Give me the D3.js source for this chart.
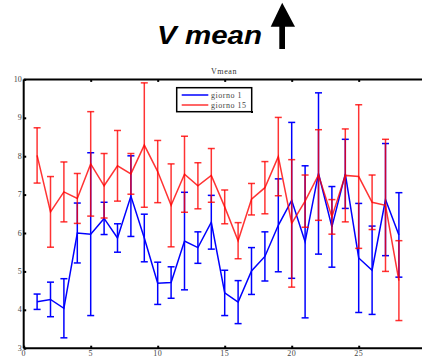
<!DOCTYPE html>
<html><head><meta charset="utf-8">
<script src="https://cdn.jsdelivr.net/npm/d3@7"></script>
<style>html,body{margin:0;padding:0;background:#fff;overflow:hidden}</style>
</head><body>
<script>
const days = d3.range(1, 29);
const meanG1 = [4.21,4.27,4.04,6.0,5.97,6.38,5.87,6.96,5.87,4.69,4.71,5.79,5.62,6.28,4.44,4.2,5.01,5.39,6.2,6.85,5.77,7.55,6.16,7.54,5.35,5.03,6.87,5.95];
const errG1  = [0.2,0.45,0.77,0.78,2.12,0.42,0.37,1.05,0.62,0.55,0.41,1.27,0.41,0.7,0.59,0.56,0.61,0.64,1.21,2.03,1.98,2.1,1.05,0.9,1.42,1.15,1.46,1.1];
const meanG15 = [8.02,6.55,7.07,6.9,7.8,7.23,7.75,7.54,8.29,7.6,6.72,7.53,7.23,7.5,6.68,5.8,6.88,7.18,7.99,6.25,6.83,7.51,6.42,7.5,7.47,6.8,6.72,4.76];
const errG15  = [0.72,0.92,0.78,0.65,1.36,0.84,0.92,0.53,1.62,0.81,1.08,0.99,0.6,0.7,0.44,0.47,0.41,0.68,1.02,1.66,0.68,1.18,0.45,1.21,1.87,0.71,1.72,1.04];
const seriesNames = ["giorno 1","giorno 15"];
const xTicks = [0,5,10,15,20,25];
const yTicks = [3,4,5,6,7,8,9,10];

const W = 422, H = 357;
const L = 23.7, T = 79.4, R = 425.7, B = 348.2;
const svg = d3.select("body").append("svg").attr("width", W).attr("height", H);

const x = d3.scaleLinear().domain([0, 30]).range([L, R]);
const y = d3.scaleLinear().domain([3, 10]).range([B, T]);

// Big title
svg.append("text").attr("x", 157).attr("y", 44.3)
  .attr("textLength", 105).attr("lengthAdjust", "spacingAndGlyphs")
  .style("font-family", "Liberation Sans, Arial, sans-serif")
  .style("font-weight", "bold").style("font-style", "italic")
  .style("font-size", "25px").attr("fill", "#000").text("V mean");
// Arrow
svg.append("rect").attr("x", 279.3).attr("y", 24).attr("width", 5.7).attr("height", 25).attr("fill", "#000");
svg.append("path").attr("d", "M270.7,26.7 L282.2,2.7 L295,26.7 Z").attr("fill", "#000");

// Small title
svg.append("text").attr("x", 224).attr("y", 74).attr("text-anchor", "middle")
  .style("font-family", "Liberation Serif, serif").style("font-size", "8px")
  .style("letter-spacing", "0.6px").attr("fill", "#333").text("Vmean");

const series = [
  {name: seriesNames[0], mean: meanG1, err: errG1, color: "#0000ff", op: 1},
  {name: seriesNames[1], mean: meanG15, err: errG15, color: "#ff0000", op: 0.8}
];

const line = d3.line().x((d, i) => x(days[i])).y(d => y(d));
const cap = 3.5;
series.forEach(s => {
  const g = svg.append("g").attr("stroke", s.color).attr("stroke-opacity", s.op)
    .attr("stroke-width", 1.5).attr("fill", "none");
  days.forEach((d, i) => {
    const lo = s.mean[i] - s.err[i], hi = s.mean[i] + s.err[i];
    g.append("line").attr("x1", x(d)).attr("x2", x(d)).attr("y1", y(lo)).attr("y2", y(hi));
    g.append("line").attr("x1", x(d) - cap).attr("x2", x(d) + cap).attr("y1", y(lo)).attr("y2", y(lo));
    g.append("line").attr("x1", x(d) - cap).attr("x2", x(d) + cap).attr("y1", y(hi)).attr("y2", y(hi));
  });
  g.append("path").attr("d", line(s.mean)).attr("stroke-linejoin", "miter");
});

// Axes frame
const ax = svg.append("g").attr("stroke", "#000").attr("stroke-width", 2);
ax.append("line").attr("x1", L).attr("x2", W).attr("y1", T).attr("y2", T);
ax.append("line").attr("x1", L).attr("x2", W).attr("y1", B).attr("y2", B);
ax.append("line").attr("x1", L).attr("x2", L).attr("y1", T).attr("y2", B);

// Axes via d3 (ticks only inside)
const yAxis = d3.axisRight(y).tickValues(yTicks).tickSize(2.5).tickFormat("");
const gy = svg.append("g").attr("transform", `translate(${L},0)`).call(yAxis);
gy.select(".domain").remove();
gy.selectAll(".tick line").attr("stroke", "#000").attr("stroke-width", 2);

const xAxisB = d3.axisTop(x).tickValues(xTicks).tickSize(2.5).tickFormat("");
const gxb = svg.append("g").attr("transform", `translate(0,${B})`).call(xAxisB);
gxb.select(".domain").remove();
gxb.selectAll(".tick line").attr("stroke", "#000").attr("stroke-width", 2);

const xAxisT = d3.axisBottom(x).tickValues(xTicks.slice(1)).tickSize(2.5).tickFormat("");
const gxt = svg.append("g").attr("transform", `translate(0,${T})`).call(xAxisT);
gxt.select(".domain").remove();
gxt.selectAll(".tick line").attr("stroke", "#000").attr("stroke-width", 2);

// Tick labels
const lblStyle = sel => sel.style("font-family", "Liberation Serif, serif").style("font-size", "8px")
  .attr("fill", "#444");
svg.append("g").selectAll("text").data(yTicks).join("text")
  .attr("x", L - 2).attr("y", d => y(d) + 2.5).attr("text-anchor", "end")
  .call(lblStyle).text(d => d);
svg.append("g").selectAll("text").data(xTicks).join("text")
  .attr("x", d => x(d)).attr("y", B + 8).attr("text-anchor", "middle")
  .style("letter-spacing", "0.4px")
  .call(lblStyle).text(d => d);

// Legend
const lg = svg.append("g");
lg.append("rect").attr("x", 176.7).attr("y", 87.7).attr("width", 75).attr("height", 24)
  .attr("fill", "#fff").attr("stroke", "#000").attr("stroke-width", 1.5);
lg.append("rect").attr("x", 251).attr("y", 111).attr("width", 2).attr("height", 2).attr("fill", "#000");
series.forEach((s, i) => {
  const yy = 95 + i * 10;
  lg.append("line").attr("x1", 181.7).attr("x2", 208.3).attr("y1", yy).attr("y2", yy)
    .attr("stroke", s.color).attr("stroke-opacity", s.op).attr("stroke-width", 1.5);
  lg.append("text").attr("x", 211).attr("y", yy + 2.8)
    .style("font-family", "Liberation Serif, serif").style("font-size", "8px")
    .style("letter-spacing", "0.5px").attr("fill", "#444").text(s.name);
});
</script>
</body></html>
